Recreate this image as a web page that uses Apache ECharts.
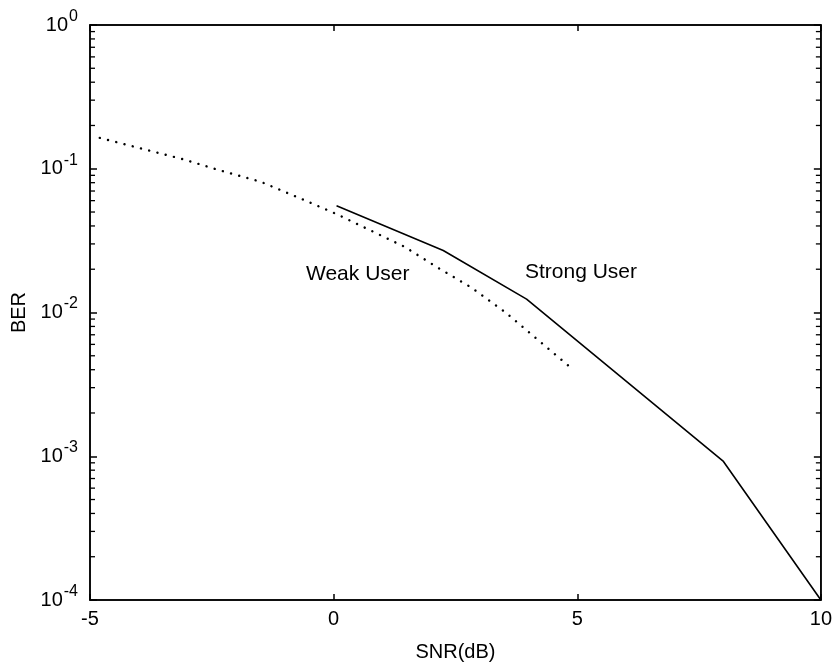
<!DOCTYPE html>
<html>
<head>
<meta charset="utf-8">
<script src="https://cdn.jsdelivr.net/npm/echarts@6/dist/echarts.min.js"></script>
<style>
  html, body { margin: 0; padding: 0; background: #fff; }
  #chart { width: 835px; height: 667px; }
</style>
</head>
<body>
<div id="chart"></div>
<script>
// BER vs SNR for the two users
const weakSNR = [-4.8, -3.07, -2.38, -1.5, -0.63, 0.06, 0.76, 1.46, 2.15, 2.83, 3.53, 4.21, 4.89];
const weakBER = [0.164, 0.116, 0.0984, 0.0813, 0.0611, 0.0484, 0.0372, 0.0286, 0.0204, 0.0149, 0.0100, 0.00638, 0.00407];
const strongSNR = [0.06, 2.25, 3.96, 8.0, 10];
const strongBER = [0.0553, 0.027, 0.0124, 0.00092, 0.0001];
const xTicks = [-5, 0, 5, 10];
const yDecades = [-4, -3, -2, -1, 0];
const curveLabels = ['Weak User', 'Strong User'];

const FONT = 'Liberation Sans, Arial, sans-serif';

// minor tick values for log axis: 2..9 x 10^d
const minorVals = [];
for (let d = yDecades[0]; d < yDecades[yDecades.length - 1]; d++) {
  for (let k = 2; k <= 9; k++) minorVals.push([xTicks[0], k * Math.pow(10, d)]);
}

const chart = echarts.init(document.getElementById('chart'));

const supFmt = function (v) {
  const e = Math.round(Math.log10(v));
  return '{b|10}{s|' + e + '}';
};

const axisLineStyle = { show: true, onZero: false, lineStyle: { color: '#000', width: 1.5 } };

chart.setOption({
  animation: false,
  backgroundColor: '#fff',
  grid: { left: 90, right: 13, top: 25, bottom: 62, show: true, borderColor: '#000', borderWidth: 1.5, backgroundColor: 'transparent' },
  xAxis: [{
    type: 'value', min: xTicks[0], max: xTicks[xTicks.length - 1], interval: 5,
    name: 'SNR(dB)', nameLocation: 'middle', nameGap: 42,
    nameTextStyle: { fontFamily: FONT, fontSize: 20, color: '#000' },
    axisLine: axisLineStyle,
    axisTick: { show: true, inside: true, length: 6, lineStyle: { color: '#000', width: 1.5 } },
    axisLabel: { fontFamily: FONT, fontSize: 20, color: '#000', margin: 9 },
    splitLine: { show: false }
  }, {
    type: 'value', position: 'top', min: xTicks[0], max: xTicks[xTicks.length - 1], interval: 5,
    axisLine: axisLineStyle,
    axisTick: { show: true, inside: true, length: 6, lineStyle: { color: '#000', width: 1.5 } },
    axisLabel: { show: false }, splitLine: { show: false }
  }],
  yAxis: [{
    type: 'log', logBase: 10, min: Math.pow(10, yDecades[0]), max: Math.pow(10, yDecades[yDecades.length - 1]),
    interval: 1,
    name: 'BER', nameLocation: 'middle', nameGap: 61, nameRotate: 90,
    nameTextStyle: { fontFamily: FONT, fontSize: 20, color: '#000' },
    axisLine: axisLineStyle,
    axisTick: { show: true, inside: true, length: 7, lineStyle: { color: '#000', width: 1.5 } },
    axisLabel: {
      margin: 12, formatter: supFmt,
      rich: {
        b: { fontFamily: FONT, fontSize: 20, color: '#000' },
        s: { fontFamily: FONT, fontSize: 16, color: '#000', verticalAlign: 'bottom', padding: [0, 0, 17, 1] }
      }
    },
    splitLine: { show: false }
  }, {
    type: 'log', logBase: 10, position: 'right', min: Math.pow(10, yDecades[0]), max: Math.pow(10, yDecades[yDecades.length - 1]),
    interval: 1,
    axisLine: axisLineStyle,
    axisTick: { show: true, inside: true, length: 7, lineStyle: { color: '#000', width: 1.5 } },
    axisLabel: { show: false }, splitLine: { show: false }
  }],
  series: [{
    name: curveLabels[0], type: 'line', xAxisIndex: 0, yAxisIndex: 0,
    data: weakSNR.map((x, i) => [x, weakBER[i]]),
    showSymbol: false, symbol: 'none',
    lineStyle: { color: '#000', width: 2.4, type: [0.1, 8.4], cap: 'round' }
  }, {
    name: curveLabels[1], type: 'line', xAxisIndex: 0, yAxisIndex: 0,
    data: strongSNR.map((x, i) => [x, strongBER[i]]),
    showSymbol: false, symbol: 'none',
    lineStyle: { color: '#000', width: 1.6 }
  }, {
    // minor log ticks on left and right edges
    type: 'custom', xAxisIndex: 0, yAxisIndex: 0, silent: true, clip: false,
    data: minorVals,
    renderItem: function (params, api) {
      const v = api.value(1);
      const p = api.coord([xTicks[0], v]);
      const q = api.coord([xTicks[xTicks.length - 1], v]);
      const st = { stroke: '#000', lineWidth: 1.3 };
      return {
        type: 'group',
        children: [
          { type: 'line', shape: { x1: p[0], y1: p[1], x2: p[0] + 5, y2: p[1] }, style: st },
          { type: 'line', shape: { x1: q[0] - 5, y1: q[1], x2: q[0], y2: q[1] }, style: st }
        ]
      };
    }
  }],
  graphic: [
    { type: 'text', left: 306, top: 264, style: { text: curveLabels[0], font: '21px ' + FONT, fill: '#000' } },
    { type: 'text', left: 525, top: 262, style: { text: curveLabels[1], font: '21px ' + FONT, fill: '#000' } }
  ]
});
</script>
</body>
</html>
